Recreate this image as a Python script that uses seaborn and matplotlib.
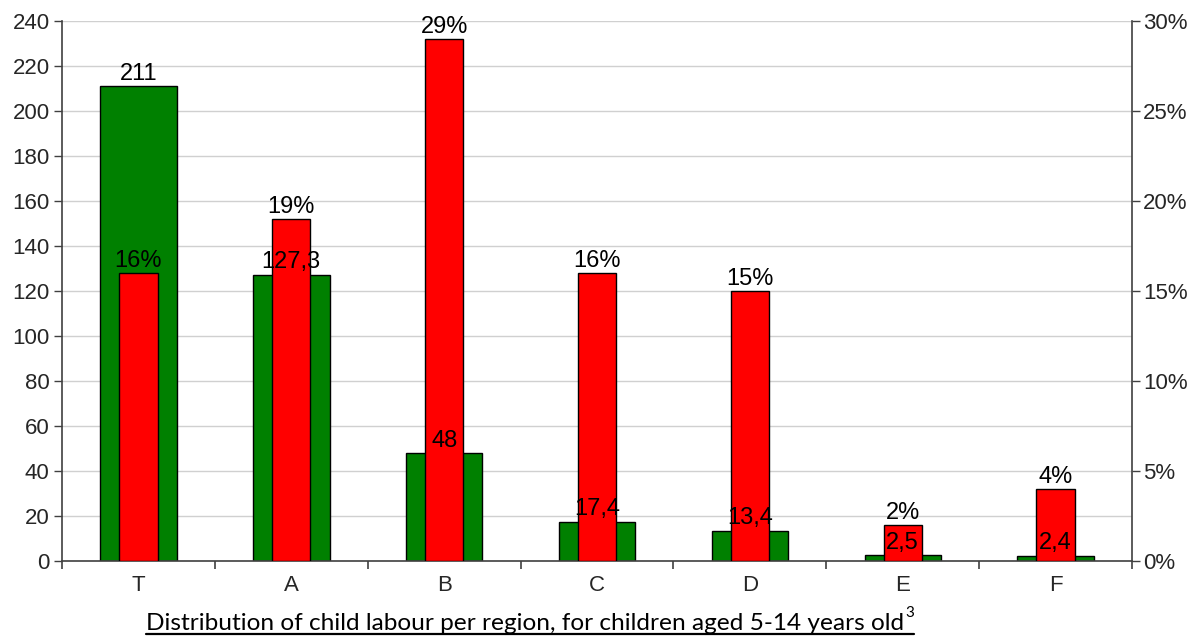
import matplotlib
matplotlib.use("Agg")
import matplotlib.pyplot as plt
from matplotlib.lines import Line2D
from matplotlib.ticker import FixedLocator, FuncFormatter
import seaborn as sns

# Child labour per region (millions) and share of children working (%)
regions = ["T", "A", "B", "C", "D", "E", "F"]
children_millions = [211, 127.3, 48, 17.4, 13.4, 2.5, 2.4]
share_percent = [16, 19, 29, 16, 15, 2, 4]
left_ticks = list(range(0, 241, 20))
right_ticks = list(range(0, 31, 5))
title_text = "Distribution of child labour per region, for children aged 5-14 years old"
title_note = "3"

sns.set_style("white")
plt.rcParams["font.family"] = ["Liberation Sans", "DejaVu Sans"]

W, H = 1199, 636
fig = plt.figure(figsize=(W / 100, H / 100), dpi=100)
ax = fig.add_axes([62 / W, 1 - 561 / H, (1132 - 62) / W, (561 - 21) / H])
ax2 = ax.twinx()

sns.barplot(x=regions, y=children_millions, ax=ax, color="#008000", saturation=1,
            width=0.5, edgecolor="black", linewidth=1.0, zorder=2)
sns.barplot(x=regions, y=share_percent, ax=ax2, color="#ff0000", saturation=1,
            width=0.25, edgecolor="black", linewidth=1.0, zorder=2)

for a in (ax, ax2):
    a.set_xlim(-0.5, len(regions) - 0.5)
    a.set_xlabel("")
    a.set_ylabel("")
ax.set_ylim(0, 240)
ax2.set_ylim(0, 30)

# Gridlines on the left scale
ax.yaxis.set_major_locator(FixedLocator(left_ticks))
ax.grid(axis="y", color="#d0d0d0", linewidth=1.0)
ax.grid(axis="x", visible=False)
ax.set_axisbelow(True)
ax2.grid(False)

ax2.yaxis.set_major_locator(FixedLocator(right_ticks))
ax2.yaxis.set_major_formatter(FuncFormatter(lambda v, p: f"{v:.0f}%"))

# Category labels centred, tick marks on category boundaries
ax.set_xticks(range(len(regions)))
ax.set_xticklabels(regions)
ax.set_xticks([i - 0.5 for i in range(len(regions) + 1)], minor=True)
ax.tick_params(axis="x", which="major", length=0, pad=10, labelsize=16)
ax.tick_params(axis="x", which="minor", length=6, width=1.2, direction="out",
               color="#404040", bottom=True)
ax.tick_params(axis="y", which="major", length=6, width=1.0, direction="out",
               pad=3, labelsize=16, left=True, color="#404040")
ax2.tick_params(axis="y", which="major", length=6, width=1.0, direction="out",
                pad=2, labelsize=16, right=True, color="#404040")
ax2.tick_params(axis="x", length=0)

for a in (ax, ax2):
    for s in a.spines.values():
        s.set_visible(False)
ax.spines["left"].set_visible(True)
ax.spines["bottom"].set_visible(True)
ax2.spines["right"].set_visible(True)
for s in (ax.spines["left"], ax.spines["bottom"], ax2.spines["right"]):
    s.set_color("#404040")
    s.set_linewidth(1.2)

def fmt_num(v):
    return f"{v:g}".replace(".", ",")

# Value labels drawn above all bars
for i, v in enumerate(children_millions):
    ax2.annotate(fmt_num(v), xy=(i, v), xycoords=ax.transData,
                 xytext=(0, 1), textcoords="offset points",
                 ha="center", va="bottom", fontsize=17, color="black", zorder=5)
for i, v in enumerate(share_percent):
    ax2.annotate(f"{v}%", xy=(i, v), xytext=(0, 1), textcoords="offset points",
                 ha="center", va="bottom", fontsize=17, color="black", zorder=5)

# Underlined caption with a footnote mark
cap = fig.text(146 / W, 1 - 630 / H, title_text, ha="left", va="baseline",
               fontsize=17.6, family=["Lato", "DejaVu Sans"], color="black")
fig.canvas.draw()
r = fig.canvas.get_renderer()
bb = cap.get_window_extent(r)
x0, x1 = bb.x0 / W, bb.x1 / W
note = fig.text(x1 + 1 / W, 1 - 617 / H, title_note, ha="left", va="baseline",
                fontsize=11, family=["Lato", "DejaVu Sans"], color="black")
fig.canvas.draw()
nb = note.get_window_extent(r)
yline = 1 - 634 / H
fig.add_artist(Line2D([x0, nb.x1 / W], [yline, yline], transform=fig.transFigure,
                      color="black", linewidth=1.6))

fig.savefig("out.png", dpi=100)
